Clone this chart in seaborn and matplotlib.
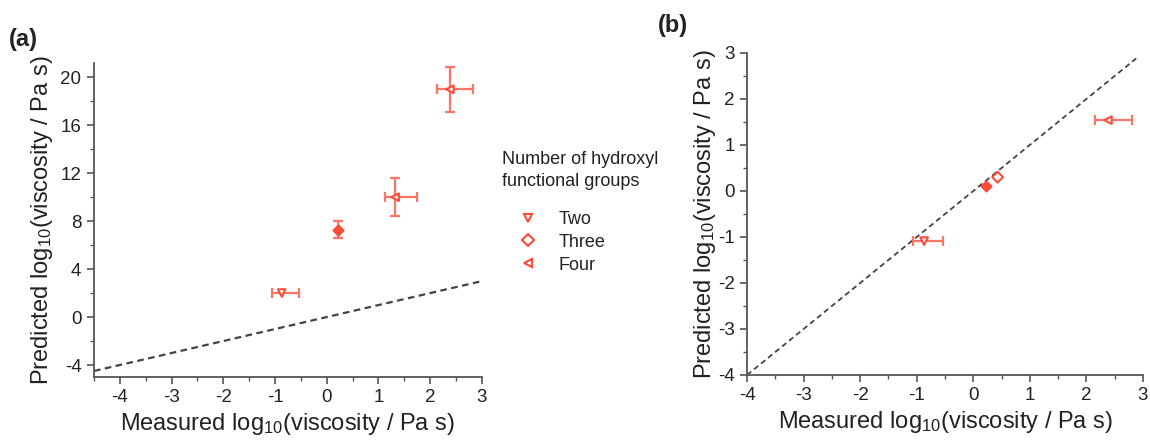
import matplotlib
matplotlib.use("Agg")
import matplotlib.pyplot as plt
import seaborn as sns
import pandas as pd
from matplotlib.ticker import MultipleLocator
from matplotlib.lines import Line2D

sns.set_style("ticks")
plt.rcParams['font.family'] = ['Liberation Sans', 'DejaVu Sans']
plt.rcParams['mathtext.default'] = 'regular'
plt.rcParams['axes.unicode_minus'] = False

# ---- data ----
groups = ["Two", "Three", "Four"]
markers = {"Two": "v", "Three": "D", "Four": "<"}

# panel (a)
a_group = ["Two", "Three", "Four", "Four"]
a_meas = [-0.87, 0.22, 1.32, 2.38]
a_meas_lo = [0.19, 0.0, 0.19, 0.25]
a_meas_hi = [0.33, 0.0, 0.43, 0.45]
a_pred = [2.0, 7.3, 10.0, 19.0]
a_pred_err = [0.0, 0.7, 1.6, 1.9]
a_filled = [False, True, False, False]
a_diag = [-4.5, 3.0]

# panel (b)
b_group = ["Two", "Three", "Three", "Four"]
b_meas = [-0.87, 0.22, 0.43, 2.38]
b_meas_lo = [0.19, 0.0, 0.0, 0.23]
b_meas_hi = [0.34, 0.0, 0.0, 0.42]
b_pred = [-1.09, 0.11, 0.30, 1.54]
b_pred_err = [0.0, 0.0, 0.0, 0.0]
b_filled = [False, True, False, False]
b_diag = [-4.0, 2.88]

red = "#ff4a3a"
err_red = "#ff7565"
spine_c = "#555555"
text_c = "#222222"

fig = plt.figure(figsize=(11.5, 4.43), dpi=100)
axA = fig.add_axes([0.0817, 0.149, 0.3374, 0.709])
axB = fig.add_axes([0.6496, 0.1535, 0.3443, 0.727])


def draw(ax, grp, xm, xlo, xhi, yp, ye, filled, diag, xlim, ylim, ymaj, ymin, lw_diag, ylpad):
    df = pd.DataFrame({"meas": xm, "pred": yp, "group": grp, "filled": filled})
    sns.lineplot(x=diag, y=diag, ax=ax, color="#444444", linestyle=(0, (3, 2)),
                 linewidth=lw_diag, zorder=1)
    for xi, yi, lo, hi, eyi in zip(xm, yp, xlo, xhi, ye):
        xerr = [[lo], [hi]] if (lo + hi) > 0 else None
        yerr = eyi if eyi > 0 else None
        ax.errorbar(xi, yi, xerr=xerr, yerr=yerr, fmt='none',
                    ecolor=err_red, elinewidth=1.6, capsize=3.5, capthick=1.6, zorder=2)
    for is_filled, sub in df.groupby("filled"):
        sns.scatterplot(data=sub, x="meas", y="pred", style="group", markers=markers,
                        style_order=groups, ax=ax, s=26 if is_filled else 30,
                        facecolor=red if is_filled else "white",
                        edgecolor=red, linewidth=1.5, legend=False, zorder=3)
    ax.set_xlim(*xlim)
    ax.set_ylim(*ylim)
    ax.xaxis.set_major_locator(MultipleLocator(1))
    ax.xaxis.set_minor_locator(MultipleLocator(0.5))
    ax.yaxis.set_major_locator(MultipleLocator(ymaj))
    ax.yaxis.set_minor_locator(MultipleLocator(ymin))
    for side in ["top", "right"]:
        ax.spines[side].set_visible(False)
    for side in ["left", "bottom"]:
        ax.spines[side].set_color(spine_c)
        ax.spines[side].set_linewidth(1.3)
    ax.tick_params(which='major', direction='out', length=5, width=1.2,
                   color=spine_c, labelsize=13.5, labelcolor=text_c, pad=4)
    ax.tick_params(which='minor', direction='out', length=3, width=1.0, color=spine_c)
    ax.set_xlabel("Measured log$_{10}$(viscosity / Pa s)", fontsize=17, color=text_c, labelpad=3)
    ax.set_ylabel("Predicted log$_{10}$(viscosity / Pa s)", fontsize=17, color=text_c, labelpad=ylpad)


draw(axA, a_group, a_meas, a_meas_lo, a_meas_hi, a_pred, a_pred_err, a_filled, a_diag,
     (-4.5, 3.0), (-5.0, 21.2), 4, 2, 1.6, 4)
draw(axB, b_group, b_meas, b_meas_lo, b_meas_hi, b_pred, b_pred_err, b_filled, b_diag,
     (-4.0, 3.0), (-4.0, 3.0), 1, 0.5, 1.3, 0)

fig.text(0.008, 0.91, "(a)", fontsize=17, fontweight='bold', color=text_c, va='center')
fig.text(0.572, 0.943, "(b)", fontsize=17, fontweight='bold', color=text_c, va='center')

# legend title and entries
fig.text(502 / 1150, 1 - 151 / 443, "Number of hydroxyl\nfunctional groups",
         fontsize=13, color=text_c, va='top', ha='left', linespacing=1.35)
handles = [Line2D([], [], linestyle='none', marker=markers[g], markersize=6,
                  markerfacecolor='white', markeredgecolor=red, markeredgewidth=1.5)
           for g in groups]
leg = fig.legend(handles, groups, loc='upper left',
                 bbox_to_anchor=(502 / 1150, 1 - 211 / 443), frameon=False,
                 fontsize=13, handlelength=2.9, handletextpad=0.25,
                 labelspacing=0.32, borderaxespad=0, borderpad=0)
for t in leg.get_texts():
    t.set_color(text_c)

fig.savefig("out.png", dpi=100)
